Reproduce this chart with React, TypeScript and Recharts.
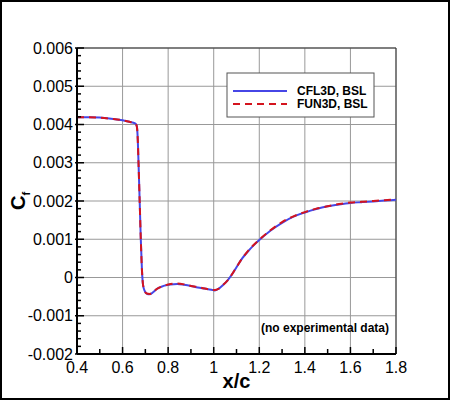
import { LineChart, Line, XAxis, YAxis, CartesianGrid, ReferenceLine, Customized } from 'recharts';

const FONT = '"Liberation Sans", Arial, Helvetica, sans-serif';

// x/c stations and skin friction
const xc = [
  0.4, 0.45, 0.5, 0.55, 0.6, 0.63, 0.655, 0.662, 0.666, 0.67, 0.675, 0.68, 0.685, 0.69,
  0.697, 0.706, 0.718, 0.735, 0.75, 0.78, 0.81, 0.84, 0.87, 0.9, 0.93, 0.96, 0.99, 1.005,
  1.02, 1.04, 1.06, 1.08, 1.1, 1.125, 1.15, 1.175, 1.2, 1.25, 1.3, 1.35, 1.4, 1.45, 1.5,
  1.55, 1.6, 1.65, 1.7, 1.75, 1.8,
];
const cfl3d = [
  0.00419, 0.00419, 0.00418, 0.00415, 0.00411, 0.00407, 0.00403, 0.00397, 0.0037, 0.003,
  0.002, 0.001, 0.0002, -0.0002, -0.00035, -0.00042, -0.00044, -0.00038, -0.0003, -0.00022,
  -0.00018, -0.00017, -0.00019, -0.00022, -0.00026, -0.00029, -0.00032, -0.00034, -0.0003,
  -0.0002, -0.00008, 0.00008, 0.00027, 0.0005, 0.00068, 0.00084, 0.00098, 0.00123, 0.00143,
  0.00159, 0.0017, 0.00179, 0.00186, 0.00191, 0.00195, 0.00197, 0.00199, 0.00201, 0.00203,
];
const fun3d = [
  0.00419, 0.00419, 0.00418, 0.00415, 0.00411, 0.00407, 0.00403, 0.00396, 0.0037, 0.003,
  0.002, 0.001, 0.0002, -0.0002, -0.00035, -0.00042, -0.00043, -0.00038, -0.0003, -0.00022,
  -0.00017, -0.00016, -0.00018, -0.00022, -0.00025, -0.00029, -0.00032, -0.00033, -0.0003,
  -0.0002, -0.00008, 0.00008, 0.00027, 0.0005, 0.00069, 0.00085, 0.00099, 0.00124, 0.00145,
  0.0016, 0.00171, 0.0018, 0.00186, 0.00192, 0.00196, 0.00198, 0.002, 0.00202, 0.00204,
];

const xMajor = [0.4, 0.6, 0.8, 1, 1.2, 1.4, 1.6, 1.8];
const xLabels = ['0.4', '0.6', '0.8', '1', '1.2', '1.4', '1.6', '1.8'];
const yMajor = [-0.002, -0.001, 0, 0.001, 0.002, 0.003, 0.004, 0.005, 0.006];
const yLabels = ['-0.002', '-0.001', '0', '0.001', '0.002', '0.003', '0.004', '0.005', '0.006'];

const seriesNames = ['CFL3D, BSL', 'FUN3D, BSL'];
const note = '(no experimental data)';

const BLUE = '#4646e6';
const RED = '#d4141e';

const data = xc.map((x, i) => ({ x, cfl3d: cfl3d[i], fun3d: fun3d[i] }));

// one minor tick between x majors, four between y majors
const xMinor = xMajor.slice(1).map((v, i) => (v + xMajor[i]) / 2);
const yMinor = yMajor.slice(1).flatMap((v, i) =>
  [1, 2, 3, 4].map((k) => yMajor[i] + ((v - yMajor[i]) * k) / 5),
);
const xTicks = [...xMajor, ...xMinor].sort((a, b) => a - b);
const yTicks = [...yMajor, ...yMinor].sort((a, b) => a - b);

const idx = (arr: number[], v: number) => arr.findIndex((a) => Math.abs(a - v) < 1e-9);

function XTick({ x, y, payload }: any) {
  const i = idx(xMajor, payload.value);
  return (
    <g>
      <line x1={x} y1={y} x2={x} y2={y - (i >= 0 ? 7 : 5)} stroke="#000" strokeWidth={1.5} />
      {i >= 0 && (
        <text x={x} y={y + 19} textAnchor="middle" fontSize={16} fontFamily={FONT} fill="#000">
          {xLabels[i]}
        </text>
      )}
    </g>
  );
}

function YTick({ x, y, payload }: any) {
  const i = idx(yMajor, payload.value);
  return (
    <g>
      <line x1={x - (i >= 0 ? 2 : 0)} y1={y} x2={x + (i >= 0 ? 7 : 4)} y2={y} stroke="#000" strokeWidth={1.5} />
      {i >= 0 && (
        <text x={x - 4} y={y} dy="0.35em" textAnchor="end" fontSize={16} fontFamily={FONT} fill="#000">
          {yLabels[i]}
        </text>
      )}
    </g>
  );
}

function Extras() {
  const lx = 227;
  const ly = 73;
  return (
    <g fontFamily={FONT}>
      <rect x={lx} y={ly} width={147} height={44} fill="#fff" stroke="#555" strokeWidth={1} />
      <line x1={lx + 6} y1={ly + 18} x2={lx + 60} y2={ly + 18} stroke={BLUE} strokeWidth={2} />
      <line x1={lx + 6} y1={ly + 31} x2={lx + 60} y2={ly + 31} stroke={RED} strokeWidth={2} strokeDasharray="7 5" />
      <text x={lx + 70} y={ly + 18} dy="0.35em" fontSize={12} fontWeight="bold" fill="#000">{seriesNames[0]}</text>
      <text x={lx + 70} y={ly + 31} dy="0.35em" fontSize={12} fontWeight="bold" fill="#000">{seriesNames[1]}</text>
      <text x={389} y={332} textAnchor="end" fontSize={12} fontWeight="bold" fill="#000">{note}</text>
    </g>
  );
}

export default function App() {
  return (
    <div style={{ position: 'absolute', left: 0, top: 0, width: 450, height: 400, background: '#fff' }}>
      <style>{'body{margin:0}'}</style>
      <LineChart width={450} height={400} data={data} margin={{ top: 48, right: 54, left: 0, bottom: 0 }}>
        <CartesianGrid
          stroke="#999"
          strokeWidth={1}
          verticalValues={xMajor}
          horizontalValues={yMajor}
        />
        <ReferenceLine y={0.006} stroke="#333" strokeWidth={1} />
        <ReferenceLine x={1.8} stroke="#333" strokeWidth={1} />
        <XAxis
          dataKey="x"
          type="number"
          domain={[0.4, 1.8]}
          ticks={xTicks}
          interval={0}
          height={46}
          tickSize={0}
          tickMargin={0}
          tickLine={false}
          axisLine={{ stroke: '#000', strokeWidth: 2 }}
          tick={<XTick />}
          allowDataOverflow
          label={{
            content: ({ viewBox }: any) => (
              <text
                x={viewBox.x + viewBox.width / 2}
                y={viewBox.y + 34}
                textAnchor="middle"
                fontSize={20}
                fontWeight="bold"
                fontFamily={FONT}
                fill="#000"
              >
                x/c
              </text>
            ),
          }}
        />
        <YAxis
          type="number"
          domain={[-0.002, 0.006]}
          ticks={yTicks}
          interval={0}
          width={77}
          tickSize={0}
          tickMargin={0}
          tickLine={false}
          axisLine={{ stroke: '#000', strokeWidth: 2 }}
          tick={<YTick />}
          allowDataOverflow
          label={{
            content: ({ viewBox }: any) => (
              <text
                transform={`translate(${viewBox.x + 25},${viewBox.y + viewBox.height / 2}) rotate(-90)`}
                textAnchor="middle"
                fontFamily={FONT}
                fontWeight="bold"
                fill="#000"
              >
                <tspan fontSize={20}>C</tspan>
                <tspan fontSize={11} dy={5}>f</tspan>
              </text>
            ),
          }}
        />
        <Line type="monotone" dataKey="cfl3d" stroke={BLUE} strokeWidth={2} dot={false} isAnimationActive={false} />
        <Line
          type="monotone"
          dataKey="fun3d"
          stroke={RED}
          strokeWidth={2}
          strokeDasharray="7 5"
          dot={false}
          isAnimationActive={false}
        />
        <Customized component={<Extras />} />
      </LineChart>
      <div
        style={{
          position: 'absolute',
          inset: 0,
          border: '2px solid #000',
          boxSizing: 'border-box',
          pointerEvents: 'none',
        }}
      />
    </div>
  );
}
